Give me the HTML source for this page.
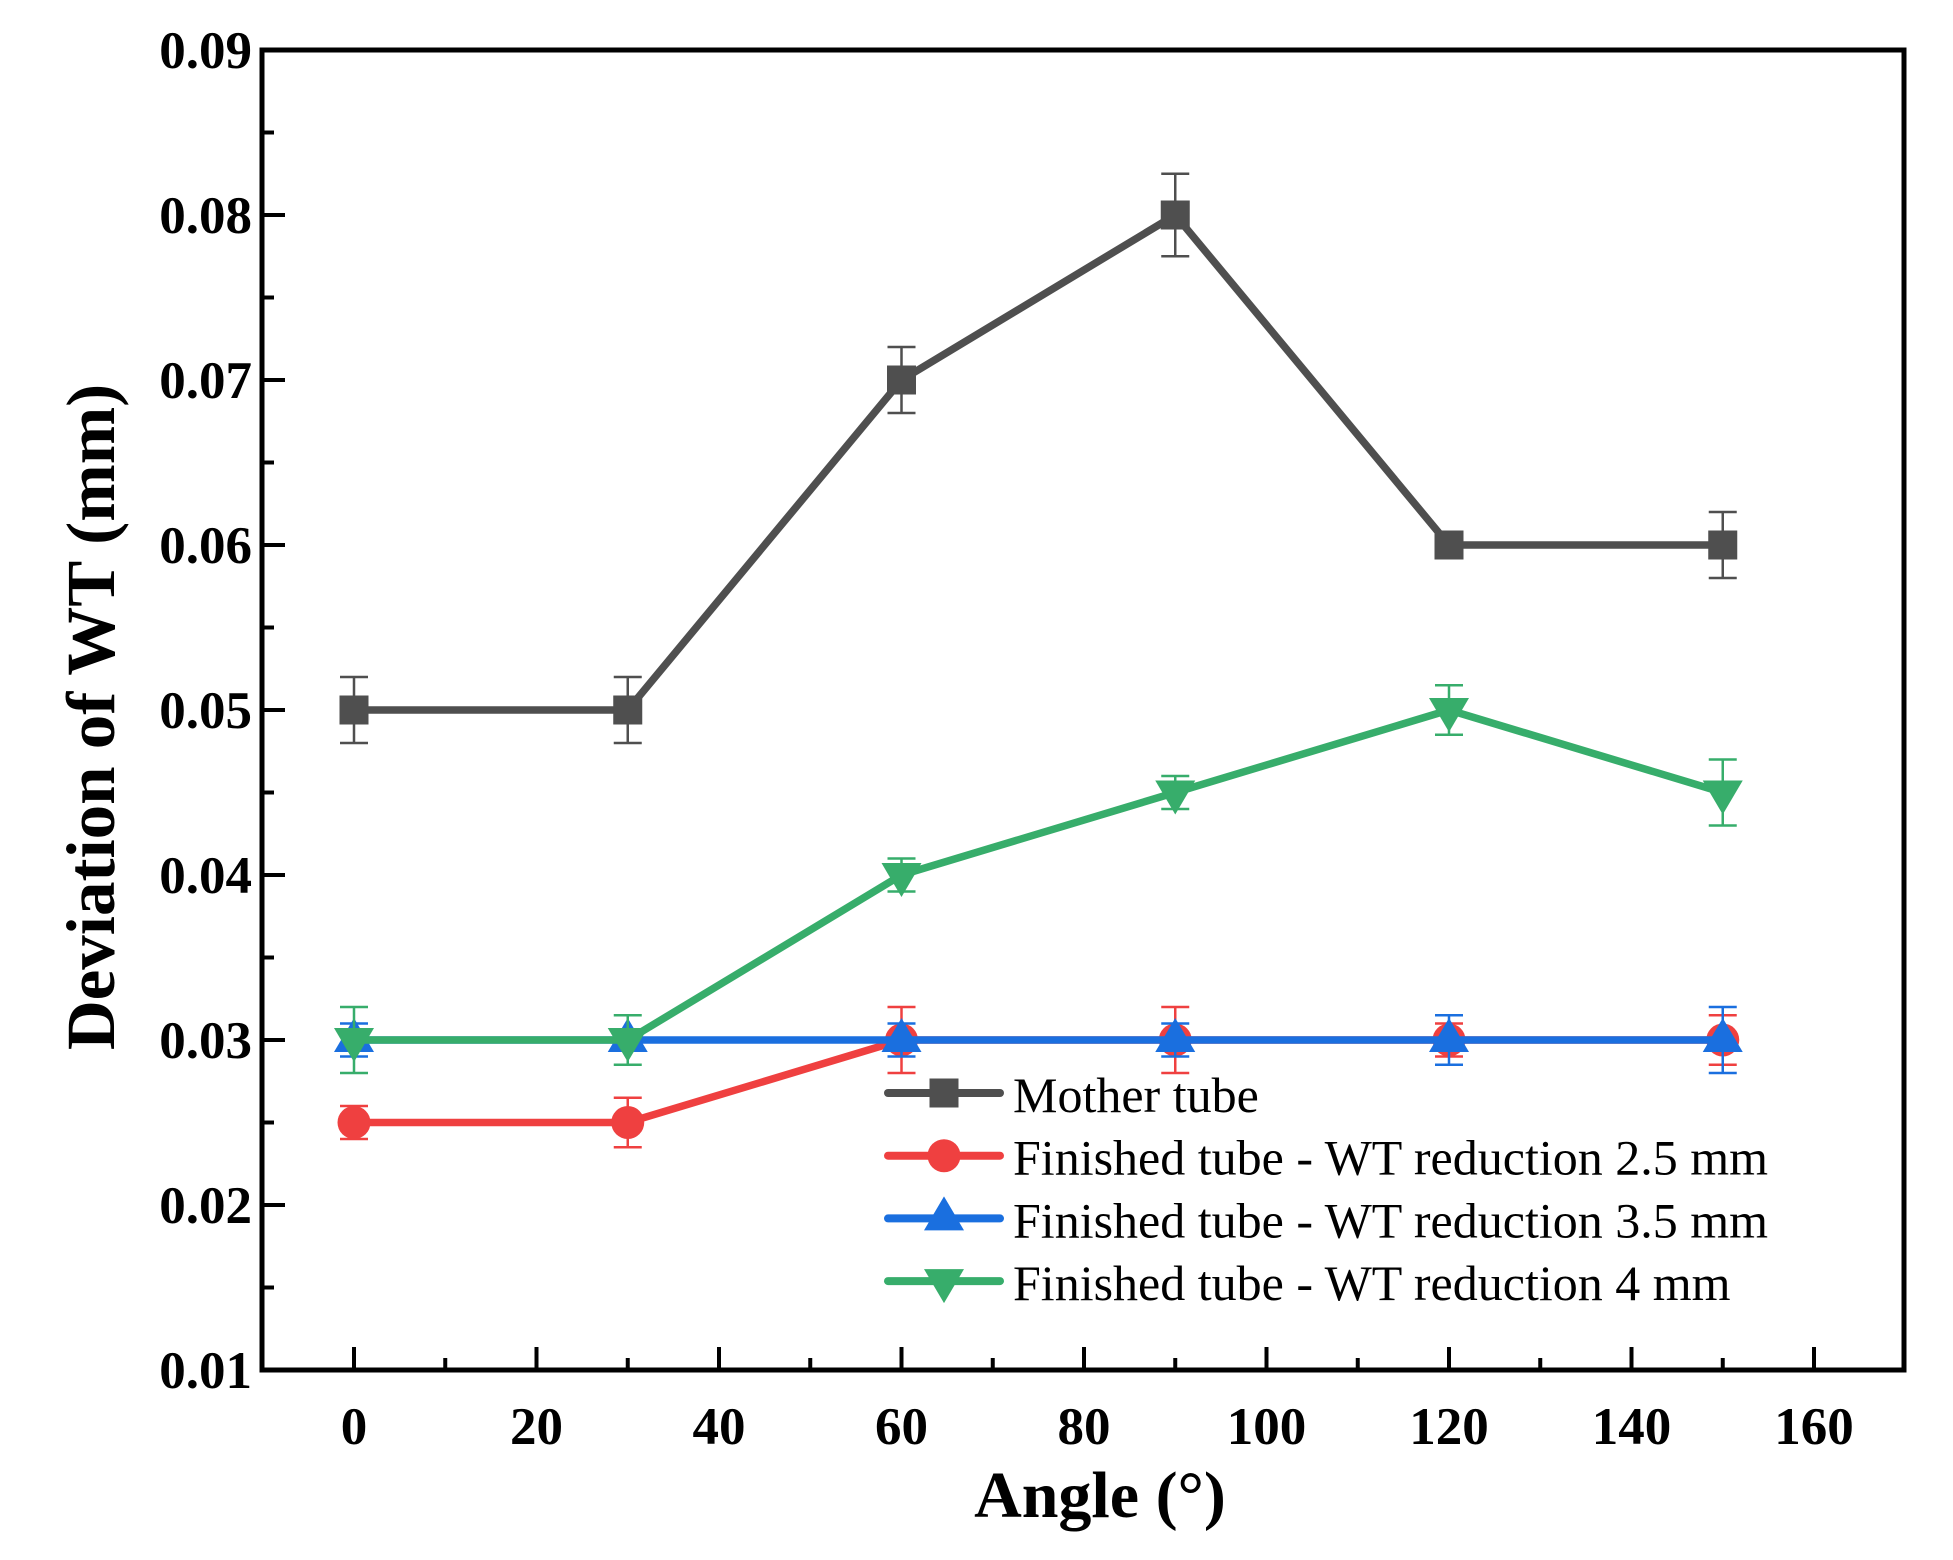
<!DOCTYPE html>
<html><head><meta charset="utf-8"><style>
html,body{margin:0;padding:0;background:#fff}
svg{display:block}
</style></head><body>
<svg id="chart" width="1953" height="1560" viewBox="0 0 1953 1560" xmlns="http://www.w3.org/2000/svg" font-family="'Liberation Serif', serif">
<g id="grid"></g>
</svg>
<script>
const categories = [0, 30, 60, 90, 120, 150];
const motherValues = [0.05, 0.05, 0.07, 0.08, 0.06, 0.06];
const motherErrors = [0.002, 0.002, 0.002, 0.0025, 0.0005, 0.002];
const red25Values = [0.025, 0.025, 0.03, 0.03, 0.03, 0.03];
const red25Errors = [0.001, 0.0015, 0.002, 0.002, 0.001, 0.0015];
const blue35Values = [0.03, 0.03, 0.03, 0.03, 0.03, 0.03];
const blue35Errors = [0.001, 0.0005, 0.001, 0.001, 0.0015, 0.002];
const green4Values = [0.03, 0.03, 0.04, 0.045, 0.05, 0.045];
const green4Errors = [0.002, 0.0015, 0.001, 0.001, 0.0015, 0.002];
const xTicks = [0, 20, 40, 60, 80, 100, 120, 140, 160];
const yTicks = [0.01, 0.02, 0.03, 0.04, 0.05, 0.06, 0.07, 0.08, 0.09];
const seriesNames = ["Mother tube", "Finished tube - WT reduction 2.5 mm", "Finished tube - WT reduction 3.5 mm", "Finished tube - WT reduction 4 mm"];

const NS = "http://www.w3.org/2000/svg";
const svg = document.getElementById('chart');
const L = 262, R = 1904, T = 50, B = 1370;
const X = v => 354 + (v - 0) * (1814 - 354) / 160;
const Y = v => B - (v - 0.01) * (B - T) / 0.08;
function mk(tag, attrs, parent) {
  const e = document.createElementNS(NS, tag);
  for (const k in attrs) e.setAttribute(k, attrs[k]);
  (parent || svg).appendChild(e);
  return e;
}
for (let i = 0; i < xTicks.length; i++) {
  const v = xTicks[i];
  const t = mk('line', {x1: X(v), x2: X(v), y1: B, y2: B - 23, stroke: '#000', 'stroke-width': 4});
  
  
  if (i < xTicks.length - 1) {
    const m = mk('line', {x1: X(v + 10), x2: X(v + 10), y1: B, y2: B - 12, stroke: '#000', 'stroke-width': 4});
    
    
  }
  const lb = mk('text', {x: X(v), y: 1444, 'text-anchor': 'middle', 'font-size': 53, 'font-weight': 'bold'});
  lb.textContent = v;
  
  
}
for (let i = 0; i < yTicks.length; i++) {
  const v = yTicks[i];
  const t = mk('line', {x1: L, x2: L + 23, y1: Y(v), y2: Y(v), stroke: '#000', 'stroke-width': 4});
  
  
  if (i < yTicks.length - 1) {
    const m = mk('line', {x1: L, x2: L + 12, y1: Y(v + 0.005), y2: Y(v + 0.005), stroke: '#000', 'stroke-width': 4});
    
    
  }
  const lb = mk('text', {x: 252, y: Y(v) + 18, 'text-anchor': 'end', 'font-size': 53, 'font-weight': 'bold'});
  lb.textContent = v.toFixed(2);
  
  
}
const frame = mk('rect', {x: L, y: T, width: R - L, height: B - T, fill: 'none', stroke: '#000', 'stroke-width': 5});



const xt = mk('text', {x: 1100, y: 1517, 'text-anchor': 'middle', 'font-size': 66, 'font-weight': 'bold'});
xt.textContent = 'Angle (°)';


const yt = mk('text', {x: 0, y: 0, 'text-anchor': 'middle', 'font-size': 69, 'font-weight': 'bold', transform: 'translate(114,717) rotate(-90)'});
yt.textContent = 'Deviation of WT (mm)';



function marker(type, cx, cy, color, parent) {
  let e;
  if (type === 'square') e = mk('rect', {x: cx - 14.5, y: cy - 14.5, width: 29, height: 29, fill: color}, parent);
  else if (type === 'circle') e = mk('circle', {cx: cx, cy: cy, r: 16.5, fill: color}, parent);
  else if (type === 'up') e = mk('polygon', {points: `${cx},${cy-22} ${cx-20},${cy+12} ${cx+20},${cy+12}`, fill: color}, parent);
  else e = mk('polygon', {points: `${cx},${cy+22} ${cx-20},${cy-12} ${cx+20},${cy-12}`, fill: color}, parent);
  return e;
}
const series = [
  {name: 'mother', vals: motherValues, errs: motherErrors, color: '#4f4f4f', m: 'square'},
  {name: 'wt-2-5', vals: red25Values, errs: red25Errors, color: '#ef4040', m: 'circle'},
  {name: 'wt-3-5', vals: blue35Values, errs: blue35Errors, color: '#1a6fdf', m: 'up'},
  {name: 'wt-4', vals: green4Values, errs: green4Errors, color: '#37ad6b', m: 'down'}
];
series.forEach(s => {
  const g = mk('g', {});
  
  
  s.vals.forEach((v, i) => {
    const x = X(categories[i]), y1 = Y(v + s.errs[i]), y2 = Y(v - s.errs[i]);
    const eb = mk('path', {d: `M${x},${y1}V${y2}M${x-14},${y1}H${x+14}M${x-14},${y2}H${x+14}`, stroke: s.color, 'stroke-width': 2.5, fill: 'none'}, g);
    
    
  });
  const pts = s.vals.map((v, i) => X(categories[i]) + ',' + Y(v)).join(' ');
  const pl = mk('polyline', {points: pts, fill: 'none', stroke: s.color, 'stroke-width': 7.5, 'stroke-linejoin': 'round'}, g);
  
  
  s.vals.forEach((v, i) => {
    const mkE = marker(s.m, X(categories[i]), Y(v), s.color, g);
    
    
  });
});
const lg = mk('g', {});


series.forEach((s, i) => {
  const y = 1093 + i * 62.7;
  const ln = mk('line', {x1: 888, x2: 1000, y1: y, y2: y, stroke: s.color, 'stroke-width': 8, 'stroke-linecap': 'round'}, lg);
  
  
  const m = marker(s.m, 944, y, s.color, lg);
  
  
  const t = mk('text', {x: 1013, y: y + 19, 'font-size': 50}, lg);
  t.textContent = seriesNames[i];
  
  
});
</script>
</body></html>
